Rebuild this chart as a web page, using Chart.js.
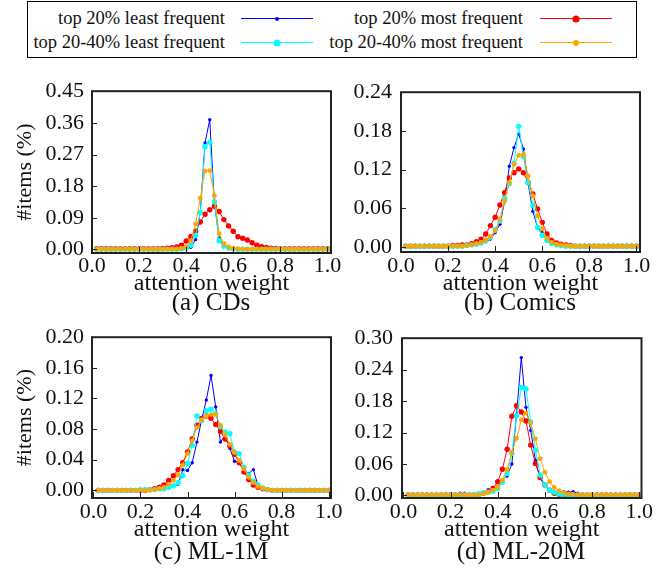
<!DOCTYPE html>
<html>
<head>
<meta charset="utf-8">
<script src="https://cdn.jsdelivr.net/npm/chart.js@4.4.1/dist/chart.umd.min.js"></script>
<style>
  body{margin:0;background:#fff;font-family:"Liberation Serif",serif;color:#111}
  #page{position:relative;width:662px;height:577px;overflow:hidden}
  canvas{position:absolute}
  .txt{position:absolute;white-space:nowrap;line-height:1}
  .cap{font-size:25px;transform:translate(-50%,-50%)}
  .leg{font-size:18.5px;transform:translateY(-50%)}
  #legbox{position:absolute;left:27px;top:1px;width:608px;height:55px;border:1px solid #000}
  .sample{position:absolute;height:1px;width:72px}
  .sample i{position:absolute;left:50%;top:50%;border-radius:50%;transform:translate(-50%,-50%)}
</style>
</head>
<body>
<div id="page">
  <div id="legbox"></div>
  <div class="txt leg" style="right:437px;top:18px">top 20% least frequent</div>
  <div class="sample" style="left:241px;top:18px;background:#0000ff"><i style="width:4px;height:4px;background:#0000ff"></i></div>
  <div class="txt leg" style="right:139px;top:18px">top 20% most frequent</div>
  <div class="sample" style="left:540px;top:18px;background:#ff0000"><i style="width:7px;height:7px;background:#ff0000"></i></div>
  <div class="txt leg" style="right:437px;top:42px">top 20-40% least frequent</div>
  <div class="sample" style="left:241px;top:42px;background:#00ffff"><i style="width:7px;height:7px;background:#00ffff"></i></div>
  <div class="txt leg" style="right:139px;top:42px">top 20-40% most frequent</div>
  <div class="sample" style="left:540px;top:42px;background:#ffa500"><i style="width:6px;height:6px;background:#ffa500"></i></div>

  <canvas id="cds" width="345" height="230" style="left:0;top:70px"></canvas>
  <canvas id="comics" width="345" height="230" style="left:310px;top:70px"></canvas>
  <canvas id="ml1m" width="345" height="230" style="left:0;top:316px"></canvas>
  <canvas id="ml20m" width="345" height="230" style="left:310px;top:316px"></canvas>

  <div class="txt cap" style="left:211px;top:301px">(a) CDs</div>
  <div class="txt cap" style="left:520px;top:301px">(b) Comics</div>
  <div class="txt cap" style="left:211px;top:550px">(c) ML-1M</div>
  <div class="txt cap" style="left:521px;top:550px">(d) ML-20M</div>
</div>
<script>
// attention weight bins (x)
let weights=[0.02,0.04,0.06,0.08,0.10,0.12,0.14,0.16,0.18,0.20,
             0.22,0.24,0.26,0.28,0.30,0.32,0.34,0.36,0.38,0.40,
             0.42,0.44,0.46,0.48,0.50,0.52,0.54,0.56,0.58,0.60,
             0.62,0.64,0.66,0.68,0.70,0.72,0.74,0.76,0.78,0.80,
             0.82,0.84,0.86,0.88,0.90,0.92,0.94,0.96,0.98,1.00];
let xTicks=[0,0.2,0.4,0.6,0.8,1.0];

// CDs
let cdsLeast20=[0.001,0.001,0.001,0.001,0.001,0.001,0.001,0.001,0.001,0.001,
  0.001,0.001,0.001,0.001,0.001,0.001,0.001,0.001,0.001,0.002,
  0.006,0.028,0.108,0.303,0.369,0.130,0.033,0.008,0.003,0.001,
  0.001,0.001,0.001,0.001,0.001,0.001,0.001,0.001,0.001,0.001,
  0.001,0.001,0.001,0.001,0.001,0.001,0.001,0.001,0.001,0.001];
let cdsMost20=[0.002,0.002,0.002,0.002,0.002,0.002,0.002,0.002,0.002,0.002,
  0.002,0.002,0.002,0.002,0.003,0.004,0.005,0.007,0.012,0.024,
  0.037,0.052,0.078,0.100,0.113,0.123,0.108,0.085,0.067,0.052,
  0.036,0.032,0.027,0.019,0.012,0.008,0.006,0.004,0.003,0.002,
  0.002,0.002,0.002,0.002,0.002,0.002,0.002,0.002,0.002,0.002];
let cdsLeast40=[0.001,0.001,0.001,0.001,0.001,0.001,0.001,0.001,0.001,0.001,
  0.001,0.001,0.001,0.001,0.001,0.001,0.001,0.001,0.002,0.004,
  0.012,0.040,0.105,0.293,0.305,0.136,0.025,0.010,0.004,0.002,
  0.001,0.001,0.001,0.001,0.001,0.001,0.001,0.001,0.001,0.001,
  0.001,0.001,0.001,0.001,0.001,0.001,0.001,0.001,0.001,0.001];
let cdsMost40=[0.001,0.001,0.001,0.001,0.001,0.001,0.001,0.001,0.001,0.001,
  0.001,0.001,0.001,0.001,0.001,0.001,0.001,0.002,0.003,0.008,
  0.025,0.073,0.146,0.223,0.224,0.153,0.045,0.017,0.007,0.004,
  0.002,0.001,0.001,0.001,0.001,0.001,0.001,0.001,0.001,0.001,
  0.001,0.001,0.001,0.001,0.001,0.001,0.001,0.001,0.001,0.001];
let cdsTicks=[0,0.09,0.18,0.27,0.36,0.45];

// Comics
let comicsLeast20=[0.001,0.001,0.001,0.001,0.001,0.001,0.001,0.001,0.001,0.001,
  0.001,0.001,0.002,0.002,0.003,0.004,0.005,0.008,0.012,0.022,
  0.035,0.070,0.125,0.154,0.175,0.152,0.098,0.055,0.030,0.022,
  0.012,0.006,0.003,0.002,0.001,0.001,0.001,0.001,0.001,0.001,
  0.001,0.001,0.001,0.001,0.001,0.001,0.001,0.001,0.001,0.001];
let comicsMost20=[0.001,0.001,0.001,0.001,0.001,0.001,0.001,0.001,0.001,0.001,
  0.002,0.002,0.003,0.003,0.005,0.008,0.012,0.020,0.033,0.046,
  0.065,0.084,0.107,0.115,0.121,0.115,0.100,0.082,0.059,0.038,
  0.020,0.010,0.006,0.004,0.003,0.002,0.001,0.001,0.001,0.001,
  0.001,0.001,0.001,0.001,0.001,0.001,0.001,0.001,0.001,0.001];
let comicsLeast40=[0.001,0.001,0.001,0.001,0.001,0.001,0.001,0.001,0.001,0.001,
  0.001,0.001,0.001,0.002,0.003,0.004,0.006,0.010,0.015,0.027,
  0.040,0.075,0.098,0.130,0.187,0.140,0.100,0.065,0.030,0.018,
  0.010,0.005,0.003,0.002,0.001,0.001,0.001,0.001,0.001,0.001,
  0.001,0.001,0.001,0.001,0.001,0.001,0.001,0.001,0.001,0.001];
let comicsMost40=[0.001,0.001,0.001,0.001,0.001,0.001,0.001,0.001,0.001,0.001,
  0.001,0.001,0.001,0.002,0.003,0.005,0.007,0.011,0.016,0.025,
  0.043,0.071,0.100,0.128,0.142,0.143,0.110,0.079,0.048,0.028,
  0.013,0.007,0.004,0.003,0.002,0.001,0.001,0.001,0.001,0.001,
  0.001,0.001,0.001,0.001,0.001,0.001,0.001,0.001,0.001,0.001];
let comicsTicks=[0,0.06,0.12,0.18,0.24];

// ML-1M
let ml1mLeast20=[0,0,0,0,0,0,0,0,0,0,
  0,0.001,0.001,0.002,0.002,0.003,0.005,0.008,0.027,0.026,
  0.036,0.063,0.092,0.118,0.150,0.109,0.063,0.072,0.055,0.038,
  0.036,0.026,0.022,0.027,0.006,0.003,0.001,0,0,0,
  0,0,0,0,0,0,0,0,0,0];
let ml1mMost20=[0,0,0,0,0,0,0,0,0,0,
  0,0.001,0.002,0.004,0.007,0.013,0.019,0.027,0.036,0.050,
  0.067,0.085,0.094,0.097,0.094,0.086,0.077,0.067,0.058,0.047,
  0.036,0.024,0.014,0.007,0.004,0.002,0.001,0,0,0,
  0,0,0,0,0,0,0,0,0,0];
let ml1mLeast40=[0,0,0,0,0,0,0,0,0,0.001,
  0.001,0.001,0.001,0.002,0.002,0.004,0.006,0.010,0.019,0.035,
  0.059,0.097,0.091,0.104,0.106,0.100,0.083,0.076,0.074,0.050,
  0.048,0.030,0.020,0.012,0.007,0.003,0.001,0,0,0,
  0,0,0,0,0,0,0,0,0,0];
let ml1mMost40=[0,0,0,0,0,0,0,0,0,0,
  0,0,0.001,0.002,0.004,0.008,0.013,0.020,0.033,0.048,
  0.065,0.082,0.092,0.097,0.099,0.099,0.085,0.072,0.060,0.050,
  0.039,0.028,0.017,0.010,0.005,0.003,0.001,0,0,0,
  0,0,0,0,0,0,0,0,0,0];
let ml1mTicks=[0,0.04,0.08,0.12,0.16,0.20];

// ML-20M
let ml20mLeast20=[0.001,0.001,0.001,0.001,0.001,0.001,0.001,0.001,0.001,0.001,
  0.001,0.004,0.004,0.002,0.002,0.003,0.004,0.011,0.011,0.013,
  0.029,0.037,0.060,0.155,0.263,0.168,0.124,0.067,0.032,0.020,
  0.011,0.007,0.005,0.007,0.006,0.007,0.004,0.002,0.001,0.001,
  0.001,0.001,0.001,0.001,0.001,0.001,0.001,0.001,0.001,0.001];
let ml20mMost20=[0.001,0.001,0.001,0.001,0.001,0.001,0.001,0.001,0.001,0.001,
  0.001,0.001,0.001,0.001,0.001,0.002,0.004,0.007,0.013,0.026,
  0.050,0.088,0.151,0.171,0.159,0.142,0.096,0.061,0.034,0.020,
  0.010,0.004,0.002,0.001,0.001,0.001,0.001,0.001,0.001,0.001,
  0.001,0.001,0.001,0.001,0.001,0.001,0.001,0.001,0.001,0.001];
let ml20mLeast40=[0.001,0.001,0.001,0.001,0.001,0.001,0.001,0.001,0.001,0.001,
  0.001,0.001,0.001,0.001,0.002,0.003,0.004,0.006,0.008,0.013,
  0.025,0.042,0.080,0.152,0.206,0.203,0.140,0.086,0.039,0.020,
  0.010,0.006,0.003,0.002,0.001,0.001,0.001,0.001,0.001,0.001,
  0.001,0.001,0.001,0.001,0.001,0.001,0.001,0.001,0.001,0.001];
let ml20mMost40=[0.001,0.001,0.001,0.001,0.001,0.001,0.001,0.001,0.001,0.001,
  0.001,0.001,0.001,0.001,0.001,0.001,0.003,0.006,0.010,0.016,
  0.029,0.049,0.082,0.109,0.144,0.157,0.138,0.108,0.070,0.044,
  0.026,0.015,0.009,0.005,0.003,0.002,0.001,0.001,0.001,0.001,
  0.001,0.001,0.001,0.001,0.001,0.001,0.001,0.001,0.001,0.001];
let ml20mTicks=[0,0.06,0.12,0.18,0.24,0.30];

const FONT="'Liberation Serif', serif";

// frame + inward tick marks, like the gnuplot box
const framePlugin={
  id:"frame",
  afterDraw(chart){
    let {ctx,chartArea:a,scales}=chart;
    ctx.save();
    ctx.strokeStyle="#222";
    ctx.lineWidth=1;
    scales.x.ticks.forEach(t=>{
      let px=Math.round(scales.x.getPixelForValue(t.value))+0.5;
      ctx.beginPath();ctx.moveTo(px,a.bottom);ctx.lineTo(px,a.bottom-6);ctx.stroke();
    });
    scales.y.ticks.forEach(t=>{
      let py=Math.round(scales.y.getPixelForValue(t.value))+0.5;
      ctx.beginPath();ctx.moveTo(a.left,py);ctx.lineTo(a.left+5,py);ctx.stroke();
    });
    ctx.lineWidth=2;
    ctx.strokeRect(a.left,a.top,a.right-a.left,a.bottom-a.top);
    ctx.restore();
  }
};

function series(label,vals,color,r,order){
  return {
    label,
    data:weights.map((w,i)=>({x:w,y:vals[i]})),
    borderColor:color,backgroundColor:color,
    borderWidth:1,pointRadius:r,pointBorderWidth:0,
    pointBackgroundColor:color,order
  };
}

function makeChart(id,sets,o){
  return new Chart(document.getElementById(id),{
    type:"line",
    data:{datasets:[
      series("top 20% least frequent",sets[0],"#0000ff",1.7,3),
      series("top 20% most frequent",sets[1],"#ff0000",2.7,2),
      series("top 20-40% least frequent",sets[2],"#00ffff",2.7,1),
      series("top 20-40% most frequent",sets[3],"#ffa500",2.4,0)
    ]},
    options:{
      responsive:false,animation:false,
      layout:{padding:{top:o.pt,right:o.pr,left:0,bottom:0}},
      plugins:{legend:{display:false},tooltip:{enabled:false}},
      scales:{
        x:{
          type:"linear",min:o.xmin,max:o.xmax,
          afterBuildTicks:s=>{s.ticks=xTicks.map(v=>({value:v}));},
          afterFit:s=>{s.height=o.xh;},
          grid:{display:false,drawTicks:false},border:{display:false},
          ticks:{color:"#111",padding:o.xpad,font:{family:FONT,size:22},callback:v=>v.toFixed(1)},
          title:{display:true,text:"attention weight",color:"#111",
                 font:{family:FONT,size:24},padding:{top:0,bottom:o.tpad}}
        },
        y:{
          type:"linear",min:o.ymin,max:o.ymax,
          afterBuildTicks:s=>{s.ticks=o.yt.map(v=>({value:v}));},
          afterFit:s=>{s.width=o.yw;},
          grid:{display:false,drawTicks:false},border:{display:false},
          ticks:{color:"#111",padding:o.ypad,font:{family:FONT,size:22},callback:v=>v.toFixed(2)},
          title:{display:o.ytitle,text:"#items (%)",color:"#111",
                 font:{family:FONT,size:22},padding:{top:11.8,bottom:0}}
        }
      }
    },
    plugins:[framePlugin]
  });
}

makeChart("cds",[cdsLeast20,cdsMost20,cdsLeast40,cdsMost40],
  {pt:21,pr:14,xh:47,yw:92,ypad:8,xmin:0,xmax:1.015,ymin:-0.01,ymax:0.45,yt:cdsTicks,xpad:0.5,tpad:1.8,ytitle:true});
makeChart("comics",[comicsLeast20,comicsMost20,comicsLeast40,comicsMost40],
  {pt:20.5,pr:15,xh:48,yw:91,ypad:9,xmin:0,xmax:1.015,ymin:-0.008,ymax:0.24,yt:comicsTicks,xpad:1.5,tpad:1.8,ytitle:false});
makeChart("ml1m",[ml1mLeast20,ml1mMost20,ml1mLeast40,ml1mMost40],
  {pt:20.5,pr:14,xh:48,yw:92,ypad:8,xmin:-0.006,xmax:1.01,ymin:-0.01,ymax:0.20,yt:ml1mTicks,xpad:0.8,tpad:1.6,ytitle:true});
makeChart("ml20m",[ml20mLeast20,ml20mMost20,ml20mLeast40,ml20mMost40],
  {pt:20,pr:13.5,xh:48,yw:92,ypad:9,xmin:-0.006,xmax:1.01,ymin:-0.005,ymax:0.30,yt:ml20mTicks,xpad:0.8,tpad:1.6,ytitle:false});
</script>
</body>
</html>
